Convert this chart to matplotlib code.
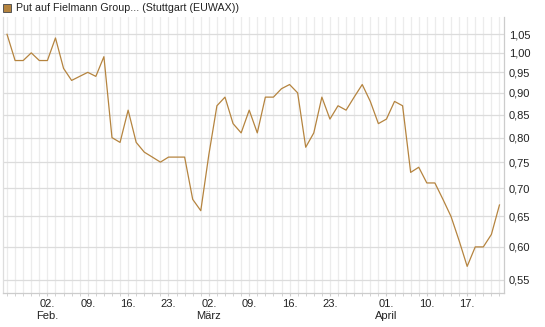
import matplotlib
matplotlib.use("Agg")
import matplotlib.pyplot as plt
from matplotlib.patches import Rectangle
from matplotlib.ticker import FixedLocator, NullLocator

plt.rcParams['font.family'] = ['Liberation Sans', 'DejaVu Sans']

# daily closing values (one per trading day)
prices = [1.05, 0.98, 0.98, 1.00, 0.98, 0.98, 1.04, 0.96, 0.93, 0.94,
          0.95, 0.94, 0.99, 0.80, 0.79, 0.86, 0.79, 0.77, 0.76, 0.75,
          0.76, 0.76, 0.76, 0.68, 0.66, 0.765, 0.87, 0.89, 0.83, 0.81,
          0.86, 0.81, 0.89, 0.89, 0.91, 0.92, 0.90, 0.78, 0.81, 0.89,
          0.84, 0.87, 0.86, 0.89, 0.92, 0.88, 0.83, 0.84, 0.88, 0.87,
          0.73, 0.74, 0.71, 0.71, 0.68, 0.65, 0.61, 0.57, 0.60, 0.60,
          0.62, 0.67]

# labelled trading days (index into prices)
tick_idx = [5, 10, 15, 20, 25, 30, 35, 40, 47, 52, 57]
tick_labels = ["02.\nFeb.", "09.", "16.", "23.", "02.\nMärz", "09.", "16.",
               "23.", "01.\nApril", "10.", "17."]
y_ticks = [0.55, 0.60, 0.65, 0.70, 0.75, 0.80, 0.85, 0.90, 0.95, 1.00, 1.05]

title = "Put auf Fielmann Group... (Stuttgart (EUWAX))"
line_col = '#b5843f'

fig = plt.figure(figsize=(5.45, 3.27), dpi=100)
ax = fig.add_axes([3/545, 1 - 293.3/327, 500.5/545, 276.3/327])

x = list(range(len(prices)))
ax.plot(x, prices, color=line_col, lw=0.9, zorder=3)

ax.set_yscale('log')
ax.set_xlim(-0.5, len(prices) - 0.5)
ax.set_ylim(0.531, 1.099)

ax.yaxis.set_major_locator(FixedLocator(y_ticks))
ax.yaxis.set_minor_locator(NullLocator())
ax.set_yticklabels([f"{v:.2f}".replace('.', ',') for v in y_ticks])
ax.yaxis.tick_right()
ax.tick_params(axis='y', length=0, pad=4, labelsize=8, labelcolor='#222222')

ax.xaxis.set_major_locator(FixedLocator(tick_idx))
ax.xaxis.set_minor_locator(FixedLocator(x))
ax.set_xticklabels(tick_labels, linespacing=1.3)
ax.tick_params(axis='x', which='both', length=2, color='#cccccc', pad=2,
               labelsize=8, labelcolor='#222222')

ax.grid(True, axis='x', which='both', color='#ececec', lw=0.9, zorder=0)
ax.grid(True, axis='y', which='major', color='#dcdcdc', lw=0.9, zorder=1)

ax.spines['top'].set_visible(False)
ax.spines['left'].set_color('#dddddd')
ax.spines['right'].set_color('#cccccc')
ax.spines['bottom'].set_color('#cccccc')
for s in ['left', 'right', 'bottom']:
    ax.spines[s].set_linewidth(0.9)

fig.add_artist(Rectangle((3/545, 1 - 12/327), 8/545, 8/327,
                         transform=fig.transFigure, facecolor=line_col,
                         edgecolor='#555555', lw=0.7))
fig.text(16/545, 1 - 8/327, title, fontsize=7.7, color='#222222', va='center')

fig.savefig("out.png", dpi=100)
